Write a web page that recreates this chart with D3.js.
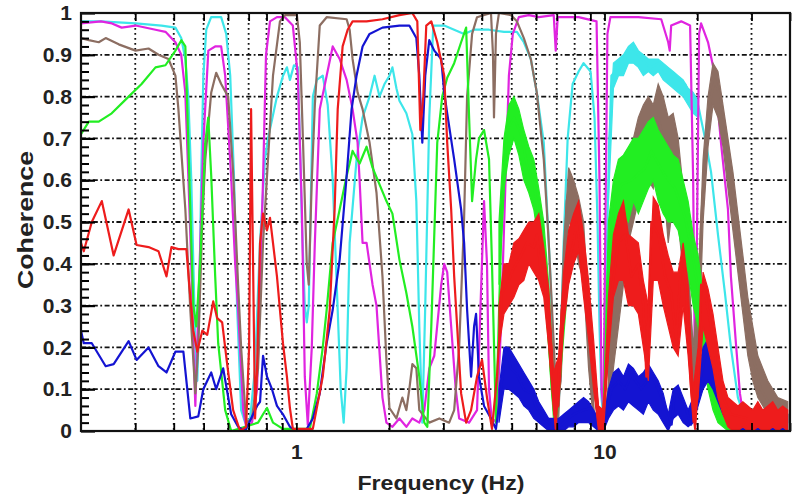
<!DOCTYPE html>
<html>
<head>
<meta charset="utf-8">
<script src="https://cdn.jsdelivr.net/npm/d3@7"></script>
<style>
  body { margin: 0; background: #fff; }
  svg { display: block; font-family: "Liberation Sans", Arial, sans-serif; font-weight: bold; }
</style>
</head>
<body>
<div id="chart"></div>
<script>
// --- Data: [frequency Hz, coherence] ---
const cyanData = [[0.2,.98],[0.232,.98],[0.301,.975],[0.365,.97],[0.405,.965],[0.423,.94],[0.436,.89],[0.446,.8],[0.456,.6],[0.463,.4],[0.470,.2],[0.477,.12],[0.484,.3],[0.491,.6],[0.499,.85],[0.510,.96],[0.529,.99],[0.570,.99],[0.592,.95],[0.610,.85],[0.628,.6],[0.642,.3],[0.662,.05],[0.682,.02],[0.708,.03],[0.734,.15],[0.762,.45],[0.791,.65],[0.809,.7],[0.865,.8],[0.905,.85],[0.932,.87],[0.953,.84],[0.982,.875],[1.011,.87],[1.026,.7],[1.042,.5],[1.065,.3],[1.081,.26],[1.097,.3],[1.114,.55],[1.131,.8],[1.165,.84],[1.218,.85],[1.264,.78],[1.312,.6],[1.352,.35],[1.393,.1],[1.424,.02],[1.456,.15],[1.489,.45],[1.568,.65],[1.640,.75],[1.728,.8],[1.794,.85],[1.861,.8],[1.932,.83],[2.005,.85],[2.050,.87],[2.112,.82],[2.160,.79],[2.275,.76],[2.379,.71],[2.451,.55],[2.506,.25],[2.563,.02],[2.620,.3],[2.700,.75],[2.782,.97],[3.019,.97],[3.252,.96],[3.503,.95],[3.773,.96],[4.219,.96],[4.718,.955],[5.196,.955],[5.473,.93],[5.766,.89],[6.029,.81],[6.352,.69],[6.545,.5],[6.692,.35],[6.843,.15],[6.998,.03],[7.155,.1],[7.371,.45],[7.594,.7],[7.88,.83],[8.241,.86],[8.554,.88],[9.011,.86],[9.284,.75],[9.493,.5],[9.634,.25],[9.779,.08],[9.926,.03],[10.07,.3],[10.30,.6],[10.53,.85],[11.10,.87],[11.69,.88],[12.23,.91],[12.88,.9],[13.57,.88],[14.19,.87],[14.94,.88],[15.74,.86],[16.46,.85],[17.34,.84],[18.27,.83],[19.10,.8],[20.13,.78],[21.20,.7],[22.17,.62],[23.35,.47],[24.60,.33],[25.72,.2],[27.10,.08],[28.55,.03],[31.45,.02],[39.3,.02]];

const magentaData = [[0.2,.975],[0.232,.98],[0.252,.975],[0.271,.965],[0.301,.97],[0.349,.96],[0.376,.955],[0.405,.93],[0.423,.9],[0.436,.81],[0.446,.61],[0.456,.4],[0.463,.21],[0.470,.06],[0.4805,.29],[0.499,.69],[0.518,.91],[0.545,.92],[0.570,.92],[0.5875,.85],[0.614,.61],[0.633,.4],[0.647,.29],[0.672,.05],[0.687,.01],[0.718,.02],[0.7455,.1],[0.762,.35],[0.7795,.6],[0.797,.9],[0.821,.98],[0.865,.99],[0.918,.99],[0.974,.97],[1.011,.85],[1.042,.53],[1.065,.13],[1.089,.015],[1.122,.2],[1.148,.45],[1.191,.77],[1.254,.85],[1.312,.92],[1.382,.89],[1.456,.84],[1.522,.77],[1.580,.69],[1.604,.6],[1.640,.45],[1.690,.45],[1.767,.35],[1.820,.3],[1.903,.08],[1.960,.02],[2.050,.01],[2.160,.03],[2.275,.01],[2.379,.03],[2.506,.02],[2.601,.05],[2.700,.15],[2.803,.18],[2.952,.35],[3.019,.4],[3.087,.38],[3.180,.25],[3.290,.1],[3.375,.03],[3.636,.02],[3.858,.05],[3.96,.3],[4.065,.55],[4.156,.4],[4.219,.1],[4.314,.02],[4.478,.03],[4.613,.25],[4.75,.55],[4.895,.85],[5.04,.95],[5.273,.99],[5.68,.995],[6.12,.99],[6.843,.995],[6.946,.91],[7.05,.99],[8.241,.99],[9.424,.98],[9.634,.6],[9.779,.1],[9.926,.05],[10.07,.5],[10.22,.95],[10.45,.99],[12.88,.99],[15.28,.985],[16.10,.93],[16.28,.91],[16.46,.97],[17.74,.98],[18.96,.97],[19.40,.6],[19.68,.1],[19.98,.5],[20.28,.95],[20.58,.975],[21.68,.93],[22.84,.85],[23.88,.69],[25.16,.53],[25.72,.37],[26.70,.21],[27.51,.09],[28.55,.015],[31.45,.01],[39.3,.01]];

const brownData = [[0.2,.94],[0.212,.935],[0.2284,.93],[0.2405,.94],[0.2651,.925],[0.3007,.91],[0.3313,.915],[0.3569,.9],[0.3845,.89],[0.405,.85],[0.4141,.77],[0.4362,.53],[0.4527,.29],[0.4699,.09],[0.4805,.2],[0.495,.5],[0.5062,.65],[0.5293,.81],[0.5493,.857],[0.5701,.83],[0.6007,.8],[0.6234,.62],[0.6471,.35],[0.6617,.2],[0.6868,.02],[0.718,.03],[0.751,.15],[0.7795,.45],[0.809,.65],[0.8397,.85],[0.8845,.98],[0.918,.995],[1.004,.995],[1.026,.93],[1.05,.7],[1.081,.4],[1.097,.35],[1.122,.6],[1.148,.78],[1.191,.97],[1.254,.99],[1.456,.985],[1.489,.96],[1.522,.89],[1.58,.81],[1.64,.77],[1.728,.69],[1.82,.57],[1.903,.37],[1.96,.17],[2.005,.055],[2.112,.03],[2.208,.08],[2.275,.05],[2.326,.1],[2.379,.16],[2.451,.15],[2.506,.05],[2.70,.02],[2.91,.03],[3.133,.02],[3.252,.05],[3.375,.2],[3.50,.5],[3.582,.8],[3.718,.95],[3.858,.99],[4.282,1.0],[4.346,.9],[4.379,.75],[4.444,.95],[4.545,1.0],[4.969,.995],[5.196,.98],[5.473,.94],[5.766,.89],[6.029,.81],[6.352,.65],[6.593,.45],[6.843,.21],[6.998,.06],[7.209,.12],[7.371,.35],[7.537,.55],[7.765,.6],[8.06,.55],[8.366,.5],[8.554,.45],[8.747,.3],[9.011,.12],[9.284,.03],[9.564,.02],[9.926,.02],[10.30,.1],[10.69,.25],[11.10,.37],[11.69,.5],[12.23,.6],[12.88,.66],[13.57,.7],[14.19,.68],[14.94,.75],[15.51,.7],[16.10,.6],[16.46,.66],[16.96,.65],[17.34,.6],[18.27,.48],[19.10,.25],[19.68,.06],[20.13,.25],[20.58,.5],[21.20,.66],[22.17,.8],[22.84,.84],[23.71,.8],[24.60,.73],[25.72,.62],[27.10,.45],[28.55,.32],[29.85,.2],[32.16,.1],[34.64,.06],[38.45,.04],[39.3,.04]];

const greenData = [[0.2,.71],[0.212,.74],[0.2284,.74],[0.2516,.76],[0.2855,.8],[0.3145,.83],[0.349,.87],[0.376,.875],[0.405,.91],[0.4234,.935],[0.4362,.92],[0.4461,.69],[0.4561,.45],[0.4629,.3],[0.4734,.25],[0.4877,.41],[0.5062,.69],[0.5176,.75],[0.5293,.61],[0.5452,.37],[0.5575,.21],[0.5875,.05],[0.6143,0],[0.6818,.01],[0.751,.02],[0.7795,.04],[0.803,.055],[0.8397,.02],[0.9046,.005],[1.106,.005],[1.165,.09],[1.218,.2],[1.254,.29],[1.312,.45],[1.382,.53],[1.456,.61],[1.522,.67],[1.604,.64],[1.69,.68],[1.767,.63],[1.861,.59],[1.96,.55],[2.05,.52],[2.16,.41],[2.275,.33],[2.379,.25],[2.506,.13],[2.601,.02],[2.661,.01],[2.741,.25],[2.866,.69],[2.974,.8],[3.087,.845],[3.252,.88],[3.425,.93],[3.556,.965],[3.636,.75],[3.718,.55],[3.83,.65],[3.916,.7],[4.065,.72],[4.219,.65],[4.314,.4],[4.444,.02],[4.613,.45],[4.823,.72],[5.081,.75],[5.352,.71],[5.597,.64],[5.896,.59],[6.211,.49],[6.495,.3],[6.742,.1],[6.946,.01],[7.209,.15],[7.482,.3],[7.765,.45],[8.12,.48],[8.554,.42],[8.878,.3],[9.215,.12],[9.564,.02],[9.85,.01],[10.07,.15],[10.30,.42],[10.85,.55],[11.35,.59],[12.23,.6],[13.57,.63],[14.19,.67],[14.94,.64],[15.74,.61],[16.96,.58],[18.27,.51],[19.10,.44],[20.13,.34],[21.20,.25],[22.17,.12],[23.35,.05],[25.16,.02],[39.3,.02]];

const blueData = [[0.2,.24],[0.2042,.21],[0.2168,.21],[0.2405,.155],[0.2553,.16],[0.2855,.215],[0.303,.17],[0.3313,.2],[0.3569,.155],[0.3789,.14],[0.405,.19],[0.4298,.19],[0.4527,.03],[0.4805,.035],[0.4987,.1],[0.5293,.14],[0.5493,.1],[0.5786,.15],[0.6143,.04],[0.6471,.01],[0.6818,0],[0.7129,.03],[0.7455,.06],[0.7623,.07],[0.7795,.18],[0.803,.13],[0.8334,.1],[0.865,.06],[0.9046,.04],[0.9528,.01],[1.004,0],[1.081,.005],[1.131,.03],[1.191,.09],[1.254,.21],[1.312,.29],[1.382,.41],[1.456,.61],[1.511,.77],[1.568,.85],[1.64,.92],[1.728,.95],[1.903,.965],[2.16,.97],[2.326,.97],[2.451,.94],[2.506,.85],[2.563,.69],[2.62,.85],[2.70,.935],[2.803,.91],[2.952,.89],[3.019,.81],[3.087,.76],[3.252,.65],[3.425,.53],[3.503,.45],[3.582,.29],[3.69,.13],[3.773,.25],[3.83,.28],[3.916,.13],[4.065,.06],[4.282,.03],[4.444,.005],[4.613,.1],[4.787,.2],[4.969,.15],[5.196,.135],[5.473,.1],[5.766,.09],[6.029,.055],[6.352,.03],[6.692,.015],[6.998,.005],[7.371,.02],[7.94,.04],[8.554,.05],[9.011,.055],[9.424,.03],[9.779,.005],[10.07,.04],[10.53,.1],[11.10,.12],[11.69,.1],[12.23,.135],[13.17,.1],[14.19,.135],[14.94,.1],[15.74,.06],[16.52,.015],[16.96,.1],[18.27,.06],[19.10,.015],[20.13,.1],[21.20,.175],[22.17,.2],[23.35,.13],[24.60,.08],[25.72,.04],[29.19,.02],[39.3,.02]];

const redData = [[0.2,.45],[0.2042,.43],[0.2168,.5],[0.2336,.55],[0.2553,.42],[0.2855,.53],[0.303,.445],[0.3313,.44],[0.3569,.43],[0.3789,.37],[0.3931,.44],[0.4141,.435],[0.4395,.435],[0.4527,.32],[0.4629,.24],[0.4769,.19],[0.495,.24],[0.5138,.23],[0.5372,.31],[0.5534,.27],[0.5743,.26],[0.5962,.16],[0.6234,.05],[0.6568,0],[0.6868,.01],[0.7024,.2],[0.7129,.77],[0.7235,.4],[0.7344,.03],[0.7455,.15],[0.7623,.45],[0.7795,.52],[0.803,.48],[0.8212,.51],[0.8397,.45],[0.865,.37],[0.8845,.29],[0.9046,.21],[0.9318,.13],[0.9528,.055],[0.9743,.005],[1.131,.005],[1.218,.13],[1.283,.29],[1.331,.53],[1.362,.77],[1.413,.92],[1.467,.96],[1.522,.98],[1.69,.98],[1.903,.985],[2.16,.995],[2.379,1.0],[2.469,.98],[2.525,.72],[2.582,.8],[2.64,.97],[2.741,.98],[2.866,.93],[3.019,.85],[3.087,.69],[3.18,.53],[3.252,.37],[3.325,.25],[3.425,.09],[3.556,.02],[3.69,.05],[3.858,.13],[4.005,.17],[4.156,.08],[4.314,.005],[4.478,.13],[4.647,.33],[4.823,.35],[5.081,.39],[5.352,.42],[5.597,.45],[5.896,.44],[6.029,.47],[6.211,.38],[6.352,.39],[6.495,.29],[6.742,.13],[6.946,.005],[7.102,.13],[7.262,.29],[7.537,.39],[7.94,.45],[8.12,.5],[8.428,.41],[8.747,.33],[9.078,.21],[9.424,.09],[9.708,.005],[10.07,.1],[10.53,.33],[11.10,.45],[11.69,.47],[12.23,.37],[12.88,.4],[13.37,.3],[13.67,.13],[13.98,.35],[14.19,.5],[14.94,.47],[15.74,.37],[16.46,.33],[17.09,.22],[17.74,.4],[18.41,.33],[19.10,.1],[19.68,.005],[20.13,.12],[20.58,.35],[21.20,.33],[22.17,.25],[23.35,.13],[24.60,.07],[25.72,.04],[29.19,.03],[39.3,.03]];

// --- Noise bands: [frequency Hz, low, high] where the trace is a ragged band ---
const cyanBand15Hz = [[10.30,.55,.68],[10.69,.82,.88],[11.10,.85,.89],[11.52,.85,.9],[11.96,.88,.92],[12.41,.88,.93],[12.88,.87,.91],[13.37,.85,.9],[13.88,.86,.89],[14.40,.85,.89],[14.94,.86,.89],[15.51,.84,.88],[16.10,.83,.87],[16.71,.82,.86],[17.34,.81,.85],[18.00,.8,.84],[18.68,.78,.82],[19.40,.76,.81],[20.13,.75,.79]];

const brownBand7Hz = [[7.102,.03,.12],[7.371,.3,.45],[7.650,.5,.63],[7.940,.48,.6],[8.241,.4,.56],[8.554,.36,.5],[8.878,.15,.3],[9.215,.02,.1]];

const brownBand15Hz = [[10.30,.05,.18],[10.69,.15,.35],[11.10,.25,.45],[11.52,.35,.55],[11.96,.45,.62],[12.41,.5,.7],[12.88,.55,.75],[13.37,.6,.78],[13.88,.6,.8],[14.40,.58,.78],[14.94,.65,.83],[15.51,.6,.8],[16.10,.45,.75],[16.71,.55,.76],[17.34,.5,.7],[18.00,.38,.58],[18.68,.2,.4],[19.40,.05,.2],[20.13,.15,.35],[20.89,.5,.65],[21.68,.68,.8],[22.50,.78,.88],[23.35,.75,.86],[24.24,.68,.78],[25.16,.58,.7],[26.11,.48,.62],[27.10,.38,.52],[28.13,.28,.42],[29.19,.18,.32],[30.30,.12,.25],[31.45,.08,.18],[33.88,.04,.12],[36.50,.02,.08],[39.32,.02,.07]];

const greenBand5Hz = [[4.545,.35,.5],[4.718,.58,.7],[4.895,.66,.78],[5.081,.7,.8],[5.273,.66,.77],[5.473,.6,.72],[5.680,.57,.68],[5.896,.53,.65],[6.120,.45,.58],[6.352,.35,.5],[6.593,.2,.35],[6.843,.02,.12]];

const greenBand15Hz = [[9.926,0,.04],[10.30,.3,.5],[10.69,.45,.6],[11.10,.5,.65],[11.52,.52,.66],[11.96,.5,.68],[12.41,.55,.7],[12.88,.52,.7],[13.37,.55,.72],[13.88,.58,.74],[14.40,.6,.75],[14.94,.55,.72],[15.51,.52,.7],[16.10,.5,.68],[16.71,.5,.66],[17.34,.48,.65],[18.00,.42,.6],[18.68,.38,.55],[19.40,.3,.47],[20.13,.25,.42],[20.89,.18,.33],[21.68,.1,.23],[22.50,.05,.15],[23.35,.02,.08],[25.16,0,.05],[39.32,0,.04]];

const blueBand = [[4.545,.02,.1],[4.718,.1,.2],[4.895,.1,.2],[5.081,.09,.18],[5.273,.08,.16],[5.473,.06,.14],[5.680,.05,.12],[5.896,.03,.1],[6.120,.02,.07],[6.352,.01,.05],[6.593,0,.03],[6.843,0,.03],[7.102,0,.03],[7.371,0,.04],[7.650,.01,.05],[7.940,.01,.06],[8.241,.02,.07],[8.554,.02,.08],[8.878,.02,.07],[9.215,.01,.05],[9.564,0,.03],[9.926,0,.02],[10.30,.03,.1],[10.69,.05,.14],[11.10,.06,.15],[11.52,.05,.13],[11.96,.07,.16],[12.41,.06,.15],[12.88,.05,.13],[13.37,.04,.14],[13.88,.07,.16],[14.40,.05,.14],[14.94,.04,.12],[15.51,.02,.09],[16.10,0,.04],[16.71,.03,.1],[17.34,.04,.11],[18.00,.02,.08],[18.68,.01,.05],[19.40,.02,.08],[20.13,.06,.14],[20.89,.1,.2],[21.68,.12,.22],[22.50,.1,.2],[23.35,.07,.15],[24.24,.04,.1],[25.16,.02,.07],[26.11,0,.05],[27.10,0,.05],[29.19,0,.04],[33.88,0,.04],[39.32,0,.04]];

const redBand = [[4.545,.2,.3],[4.718,.28,.4],[4.895,.3,.4],[5.081,.32,.45],[5.273,.35,.46],[5.473,.36,.48],[5.680,.4,.5],[5.896,.38,.5],[6.120,.36,.52],[6.352,.32,.44],[6.593,.2,.34],[6.843,.04,.14],[7.102,.06,.18],[7.371,.25,.38],[7.650,.35,.48],[7.940,.4,.52],[8.241,.43,.55],[8.554,.32,.47],[8.878,.22,.36],[9.215,.1,.22],[9.564,0,.06],[9.926,0,.05],[10.30,.18,.32],[10.69,.32,.47],[11.10,.36,.52],[11.52,.36,.55],[11.96,.3,.47],[12.41,.3,.46],[12.88,.28,.45],[13.37,.2,.36],[13.88,.12,.3],[14.40,.36,.56],[14.94,.36,.54],[15.51,.3,.47],[16.10,.25,.42],[16.71,.2,.38],[17.34,.18,.38],[18.00,.3,.45],[18.68,.18,.35],[19.40,.02,.1],[20.13,.08,.2],[20.89,.25,.38],[21.68,.2,.34],[22.50,.15,.28],[23.35,.08,.2],[24.24,.04,.12],[25.16,.01,.08],[26.11,0,.07],[27.10,0,.06],[28.13,.01,.07],[29.19,0,.06],[30.30,0,.05],[31.45,.01,.07],[32.64,0,.05],[33.88,0,.06],[35.16,.01,.07],[36.50,0,.05],[37.88,.01,.06],[39.32,0,.05]];

// --- Axis ticks ---
const gridFreqs = [0.3,0.4,0.5,0.6,0.7,0.8,0.9,1,2,3,4,5,6,7,8,9,10,20,30,40];
const xTickLabels = [1, 10];
const yTicks = [0,0.1,0.2,0.3,0.4,0.5,0.6,0.7,0.8,0.9,1];

// plotting order, later on top
const seriesList = [
  { color: '#3de6ea', data: cyanData, bands: [cyanBand15Hz] },
  { color: '#e024e0', data: magentaData, bands: [] },
  { color: '#8c6e62', data: brownData, bands: [brownBand7Hz, brownBand15Hz] },
  { color: '#22ee22', data: greenData, bands: [greenBand5Hz, greenBand15Hz] },
  { color: '#1414d2', data: blueData, bands: [blueBand] },
  { color: '#ee1c1c', data: redData, bands: [redBand] }
];

const W = 794, H = 497;
const plotLeft = 81, plotRight = 790, plotTop = 13, plotBottom = 431;

const x = d3.scaleLog().domain([0.2, 40]).range([plotLeft, plotRight]);
const y = d3.scaleLinear().domain([0, 1]).range([plotBottom, plotTop]);

const svg = d3.select('#chart').append('svg').attr('width', W).attr('height', H);

svg.append('clipPath').attr('id', 'plotclip')
  .append('rect')
  .attr('x', plotLeft).attr('y', plotTop - 1)
  .attr('width', plotRight - plotLeft).attr('height', plotBottom - plotTop + 2);

// --- Grid ---
const gGrid = svg.append('g');
gGrid.selectAll('line.v').data(gridFreqs).enter().append('line')
  .attr('x1', d => x(d)).attr('x2', d => x(d))
  .attr('y1', plotTop).attr('y2', plotBottom)
  .attr('stroke', '#111').attr('stroke-width', 1.8)
  .attr('stroke-dasharray', '1.8,3.2');
gGrid.selectAll('line.h').data(yTicks.slice(1, -1)).enter().append('line')
  .attr('x1', plotLeft).attr('x2', plotRight)
  .attr('y1', d => y(d)).attr('y2', d => y(d))
  .attr('stroke', '#111').attr('stroke-width', 1.8)
  .attr('stroke-dasharray', '5,2.5,1.8,2.5');

// --- Series ---
const gData = svg.append('g').attr('clip-path', 'url(#plotclip)');
const band = d3.area().x(d => x(d[0])).y0(d => y(d[1])).y1(d => y(d[2]));
const line = d3.line().x(d => x(d[0])).y(d => y(d[1]));

seriesList.forEach(s => {
  s.bands.forEach(b => {
    gData.append('path').attr('d', band(b))
      .attr('fill', s.color).attr('stroke', s.color).attr('stroke-width', 1.2);
  });
  gData.append('path').attr('d', line(s.data))
    .attr('fill', 'none').attr('stroke', s.color)
    .attr('stroke-width', 2.2).attr('stroke-linejoin', 'round');
});

// --- Axes ---
const yAxis = svg.append('g').attr('transform', `translate(${plotLeft},0)`)
  .call(d3.axisLeft(y).tickValues(yTicks).tickSize(-14).tickPadding(9)
    .tickFormat(d => (d === 0 || d === 1) ? String(d) : d3.format('.1f')(d)));
yAxis.select('.domain').remove();
yAxis.selectAll('.tick line').attr('stroke', '#000').attr('stroke-width', 2.2);
yAxis.selectAll('text').attr('font-size', 21).attr('fill', '#222');

const yMinor = svg.append('g').attr('transform', `translate(${plotLeft},0)`)
  .call(d3.axisLeft(y).tickValues(d3.range(0.02, 1, 0.02)).tickSize(-8).tickFormat(''));
yMinor.select('.domain').remove();
yMinor.selectAll('.tick line').attr('stroke', '#000').attr('stroke-width', 2);

const xAxis = svg.append('g').attr('transform', `translate(0,${plotBottom})`)
  .call(d3.axisBottom(x).tickValues(gridFreqs).tickSize(-8).tickPadding(13)
    .tickFormat(d => xTickLabels.includes(d) ? String(d) : ''));
xAxis.select('.domain').remove();
xAxis.selectAll('.tick line').attr('stroke', '#000').attr('stroke-width', 1.8);
xAxis.selectAll('text').attr('font-size', 21).attr('fill', '#222');

const xTop = svg.append('g').attr('transform', `translate(0,${plotTop})`)
  .call(d3.axisTop(x).tickValues(gridFreqs).tickSize(-8).tickFormat(''));
xTop.select('.domain').remove();
xTop.selectAll('.tick line').attr('stroke', '#000').attr('stroke-width', 1.8);

// frame
svg.append('rect')
  .attr('x', plotLeft).attr('y', plotTop)
  .attr('width', plotRight - plotLeft).attr('height', plotBottom - plotTop)
  .attr('fill', 'none').attr('stroke', '#111').attr('stroke-width', 2.2);

// --- Titles ---
svg.append('text')
  .attr('x', 441).attr('y', 490)
  .attr('text-anchor', 'middle').attr('font-size', 21).attr('fill', '#222')
  .attr('textLength', 167).attr('lengthAdjust', 'spacingAndGlyphs')
  .text('Frequency (Hz)');

svg.append('text')
  .attr('transform', 'translate(33,220) rotate(-90)')
  .attr('text-anchor', 'middle').attr('font-size', 22).attr('fill', '#222')
  .attr('textLength', 138).attr('lengthAdjust', 'spacingAndGlyphs')
  .text('Coherence');
</script>
</body>
</html>
